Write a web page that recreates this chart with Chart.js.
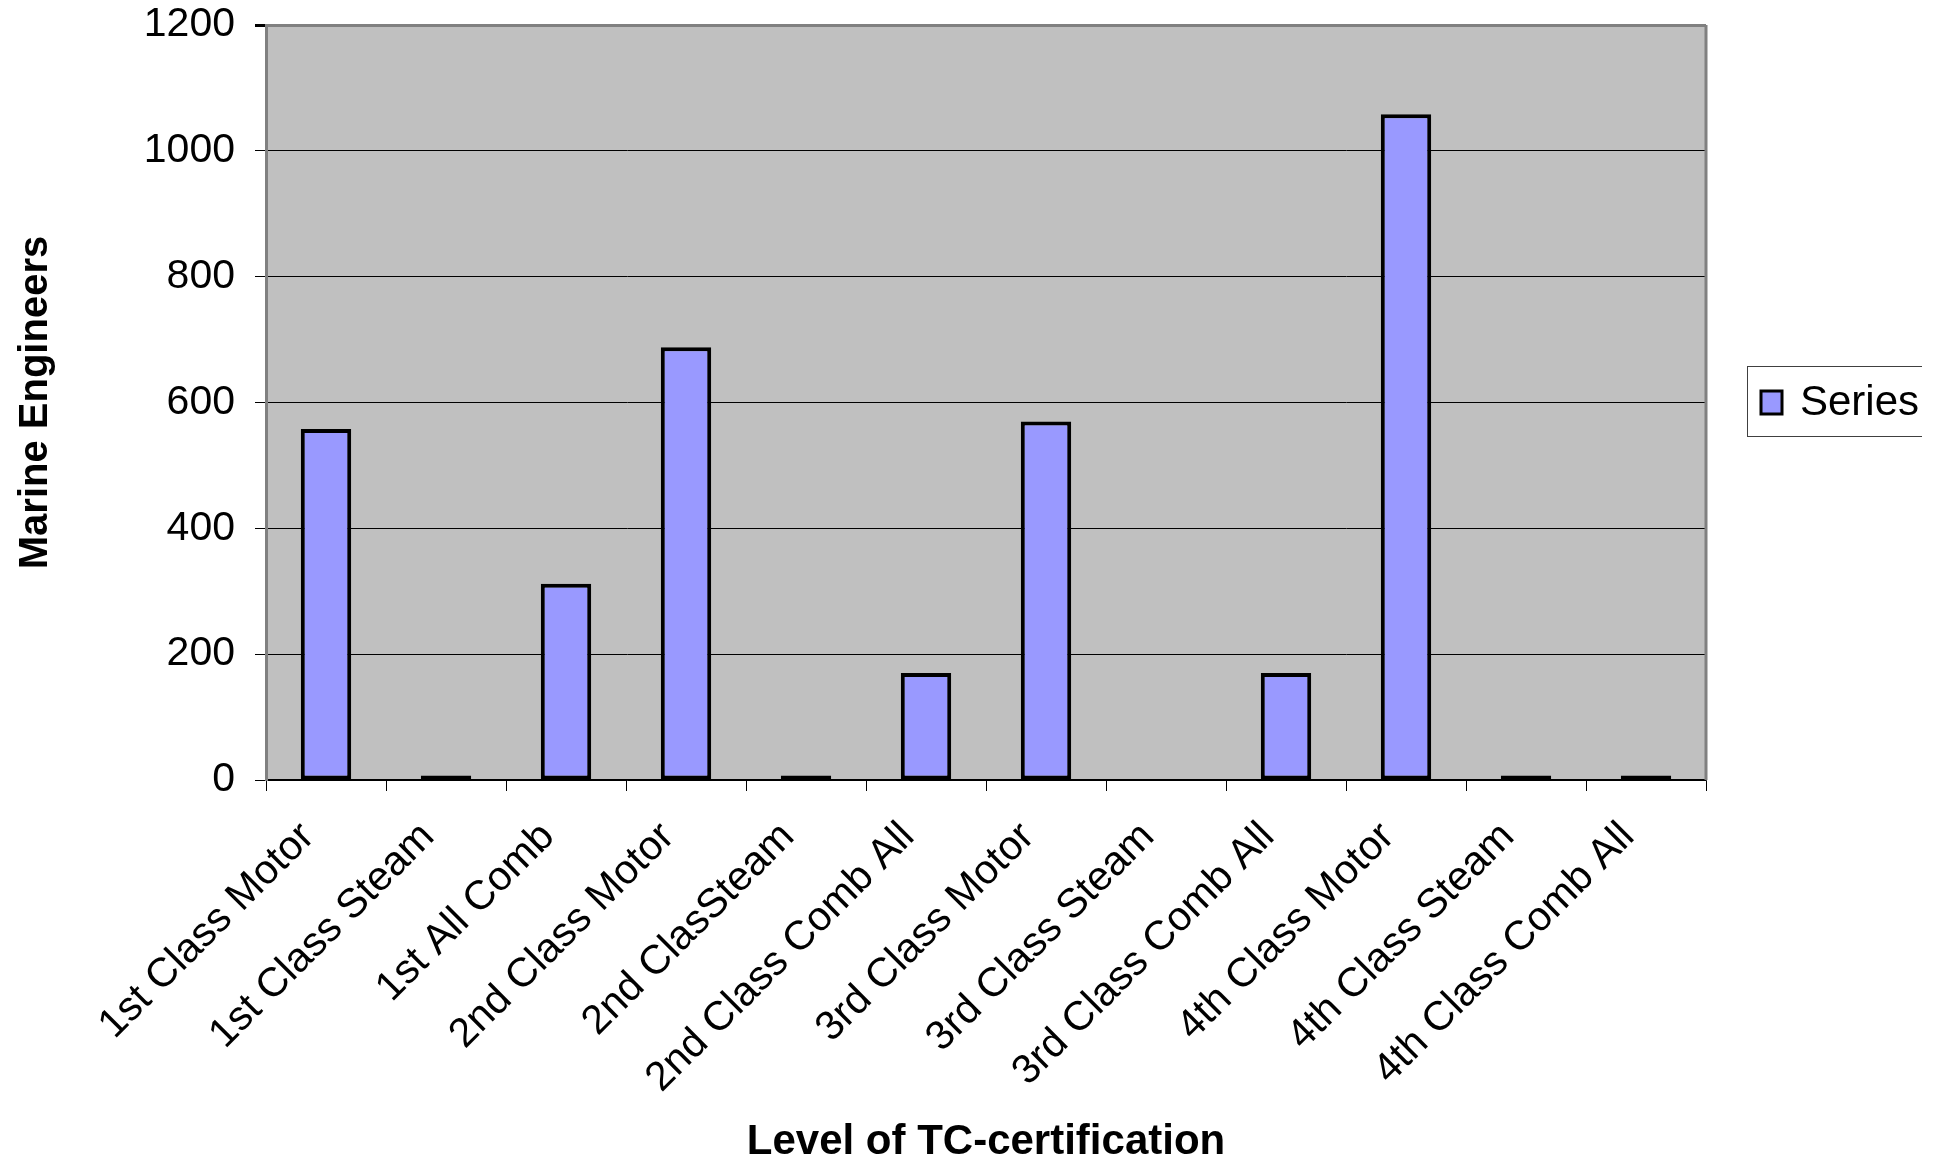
<!DOCTYPE html>
<html>
<head>
<meta charset="utf-8">
<script src="https://cdn.jsdelivr.net/npm/chart.js@4/dist/chart.umd.min.js"></script>
<style>
    html, body { margin: 0; padding: 0; background: #fff; overflow: hidden; }
    #wrap { width: 1946px; height: 1163px; }
</style>
</head>
<body>
<div id="wrap"><canvas id="myChartTC"></canvas></div>
<script>
// categories on the x axis
var levels = [
    '1st Class Motor',
    '1st Class Steam',
    '1st All Comb',
    '2nd Class Motor',
    '2nd ClasSteam',
    '2nd Class Comb All',
    '3rd Class Motor',
    '3rd Class Steam',
    '3rd Class Comb All',
    '4th Class Motor',
    '4th Class Steam',
    '4th Class Comb All'
];

// number of marine engineers per level
var engineers = [558, 7, 312, 688, 7, 170, 570, 0, 170, 1058, 7, 7];

var seriesName = 'Series1';
var yTicks = [0, 200, 400, 600, 800, 1000, 1200];

var FONT = "'Liberation Sans', Arial, sans-serif";

// gray plot background, gray frame and the clipped legend box on the right
var plotFrame = {
    id: 'plotFrame',
    beforeDraw: function (chart) {
        var ctx = chart.ctx;
        var a = chart.chartArea;
        ctx.save();
        ctx.fillStyle = '#c0c0c0';
        ctx.fillRect(a.left, a.top, a.right - a.left, a.bottom - a.top);
        ctx.restore();
    },
    afterDraw: function (chart) {
        var ctx = chart.ctx;
        var a = chart.chartArea;
        ctx.save();
        // right edge of the plot
        ctx.strokeStyle = '#808080';
        ctx.lineWidth = 3;
        ctx.beginPath();
        ctx.moveTo(a.right, a.top);
        ctx.lineTo(a.right, a.bottom);
        ctx.stroke();

        // legend, cut off at the right like in the original
        ctx.beginPath();
        ctx.rect(0, 0, 1922, chart.height);
        ctx.clip();
        var lx = a.right + 41;
        var ly = 366;
        ctx.fillStyle = '#fff';
        ctx.fillRect(lx, ly, 300, 70);
        ctx.strokeStyle = '#404040';
        ctx.lineWidth = 1;
        ctx.strokeRect(lx + 0.5, ly + 0.5, 300, 70);

        ctx.fillStyle = '#9999ff';
        ctx.fillRect(lx + 14, ly + 25, 21, 23);
        ctx.strokeStyle = '#000';
        ctx.lineWidth = 3;
        ctx.strokeRect(lx + 14, ly + 25, 21, 23);

        ctx.fillStyle = '#000';
        ctx.font = '42px ' + FONT;
        ctx.textBaseline = 'middle';
        ctx.textAlign = 'left';
        ctx.fillText(chart.data.datasets[0].label, lx + 53, ly + 37);
        ctx.restore();
    }
};

var data = {
    labels: levels,
    datasets: [{
        label: seriesName,
        data: engineers,
        backgroundColor: '#9999ff',
        borderColor: '#000000',
        borderWidth: 4,
        borderSkipped: false,
        categoryPercentage: 1.0,
        barPercentage: 0.42
    }]
};

var options = {
    responsive: true,
    maintainAspectRatio: false,
    animation: false,
    layout: {
        padding: { left: 0, top: 25, right: 240, bottom: 0 }
    },
    plugins: {
        legend: { display: false },
        tooltip: { enabled: false }
    },
    scales: {
        x: {
            afterFit: function (scale) {
                scale.height = 383;
                scale.paddingLeft = 0;
                scale.paddingRight = 0;
            },
            grid: {
                display: true,
                drawOnChartArea: false,
                drawTicks: true,
                tickLength: 11,
                color: '#000',
                offset: true
            },
            border: { display: true, color: '#000', width: 1.5 },
            ticks: {
                color: '#000',
                font: { family: FONT, size: 41 },
                minRotation: 45,
                maxRotation: 45,
                autoSkip: false,
                padding: 22,
                labelOffset: -18
            },
            title: {
                display: true,
                text: 'Level of TC-certification',
                color: '#000',
                font: { family: FONT, size: 42, weight: 'bold', lineHeight: 1 },
                padding: { top: 0, bottom: 0 }
            }
        },
        y: {
            min: 0,
            max: 1200,
            afterFit: function (scale) {
                scale.width = 266;
                scale.paddingTop = 0;
                scale.paddingBottom = 0;
            },
            afterBuildTicks: function (scale) {
                scale.ticks = yTicks.map(function (v) { return { value: v }; });
            },
            grid: {
                color: function (c) { return c.tick && c.tick.value === 1200 ? '#808080' : '#000'; },
                lineWidth: function (c) { return c.tick && c.tick.value === 1200 ? 3 : 1; },
                tickColor: '#000',
                tickLength: 11
            },
            border: { display: true, color: '#808080', width: 3 },
            ticks: {
                color: '#000',
                font: { family: FONT, size: 41 },
                padding: 20,
                callback: function (v) { return String(v); }
            },
            title: {
                display: true,
                text: 'Marine Engineers',
                color: '#000',
                font: { family: FONT, size: 40, weight: 'bold', lineHeight: 1 },
                padding: { top: 16, bottom: 0 }
            }
        }
    }
};

var myChart = new Chart(document.getElementById('myChartTC'), {
    type: 'bar',
    data: data,
    options: options,
    plugins: [plotFrame]
});
</script>
</body>
</html>
